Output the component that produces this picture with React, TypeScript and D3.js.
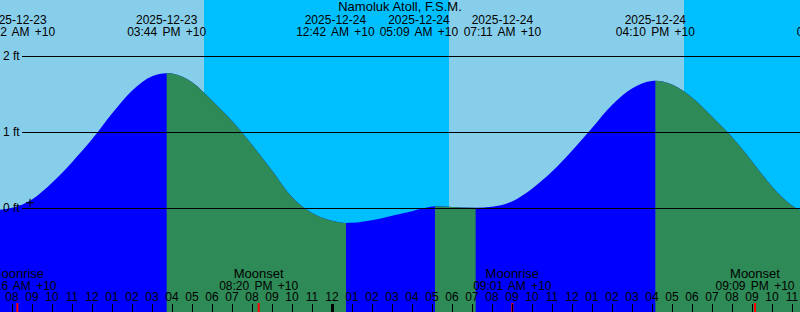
import React from "react";
import * as d3 from "d3";

const W = 800;
const H = 312;

const title = "Namoluk Atoll, F.S.M.";

// tide readings (local time +10) and heights in ft
const tideTimes = [
  "2025-12-23 05:00", "2025-12-23 06:00", "2025-12-23 07:00", "2025-12-23 08:00",
  "2025-12-23 09:00", "2025-12-23 10:00", "2025-12-23 11:00", "2025-12-23 12:00",
  "2025-12-23 13:00", "2025-12-23 14:00", "2025-12-23 15:00", "2025-12-23 15:44",
  "2025-12-23 16:00", "2025-12-23 17:00", "2025-12-23 18:00", "2025-12-23 19:00",
  "2025-12-23 20:00", "2025-12-23 21:00", "2025-12-23 22:00", "2025-12-23 23:00",
  "2025-12-24 00:00", "2025-12-24 00:42", "2025-12-24 01:00", "2025-12-24 02:00",
  "2025-12-24 03:00", "2025-12-24 04:00", "2025-12-24 05:00", "2025-12-24 05:09",
  "2025-12-24 06:00", "2025-12-24 07:00", "2025-12-24 07:11", "2025-12-24 08:00",
  "2025-12-24 09:00", "2025-12-24 10:00", "2025-12-24 11:00", "2025-12-24 12:00",
  "2025-12-24 13:00", "2025-12-24 14:00", "2025-12-24 15:00", "2025-12-24 16:00",
  "2025-12-24 16:10", "2025-12-24 17:00", "2025-12-24 18:00", "2025-12-24 19:00",
  "2025-12-24 20:00", "2025-12-24 21:00", "2025-12-24 22:00", "2025-12-24 23:00",
  "2025-12-25 00:00", "2025-12-25 01:00", "2025-12-25 02:00",
];
const tideHeights = [
  0.06, 0.0, -0.02, 0.01,
  0.12, 0.34, 0.61, 0.91,
  1.25, 1.55, 1.74, 1.78,
  1.775, 1.66, 1.42, 1.15,
  0.84, 0.5, 0.15, -0.06,
  -0.16, -0.19, -0.188, -0.155,
  -0.095, -0.035, 0.025, 0.03,
  0.02, 0.011, 0.01, 0.023,
  0.093, 0.26, 0.486, 0.76,
  1.06, 1.363, 1.58, 1.678,
  1.68, 1.63, 1.46, 1.21,
  0.94, 0.62, 0.29, 0.04,
  -0.09, -0.15, -0.1,
];

// labelled events on top
const topLabelTimes = [
  "2025-12-23 08:12",
  "2025-12-23 15:44",
  "2025-12-24 00:42",
  "2025-12-24 05:09",
  "2025-12-24 07:11",
  "2025-12-24 16:10",
  "2025-12-25 01:12",
];

// moon events
const moonTimes = ["2025-12-23 08:16", "2025-12-23 20:20", "2025-12-24 09:01", "2025-12-24 21:09"];
const moonKinds = ["Moonrise", "Moonset", "Moonrise", "Moonset"];

// sun
const sunsetTimes = ["2025-12-23 17:36", "2025-12-24 17:36"];
const sunriseTimes = ["2025-12-24 05:51", "2025-12-25 05:52"];

// y axis levels
const levelTicks = [0, 1, 2];

// marker
const markTime = "2025-12-23 08:54";
const markLevel = 0.07;

const FONT = "'Liberation Sans', Arial, Helvetica, sans-serif";

function spread(xs: number[], sep: number): number[] {
  type G = { idx: number[]; c: number };
  const order = xs.map((v, i) => i).sort((a, b) => xs[a] - xs[b]);
  const groups: G[] = order.map((i) => ({ idx: [i], c: xs[i] }));
  let merged = true;
  while (merged) {
    merged = false;
    for (let i = 0; i < groups.length - 1; i++) {
      const g1 = groups[i];
      const g2 = groups[i + 1];
      const r1 = g1.c + ((g1.idx.length - 1) * sep) / 2;
      const l2 = g2.c - ((g2.idx.length - 1) * sep) / 2;
      if (l2 - r1 < sep) {
        const idx = g1.idx.concat(g2.idx);
        const c = d3.mean(idx, (k) => xs[k]) as number;
        groups.splice(i, 2, { idx, c });
        merged = true;
        break;
      }
    }
  }
  const out = xs.slice();
  groups.forEach((g) => {
    g.idx.forEach((k, j) => {
      out[k] = g.c + (j - (g.idx.length - 1) / 2) * sep;
    });
  });
  return out;
}

export default function App() {
  const parse = d3.timeParse("%Y-%m-%d %H:%M");
  const start = parse("2025-12-23 07:24") as Date;
  const end = d3.timeHour.offset(start, 40);
  const x = d3.scaleTime().domain([start, end]).range([0, W]);
  const y = d3.scaleLinear().domain([0, 2]).range([208.5, 56.5]);

  const pts = tideTimes.map((t, i) => ({ t: parse(t) as Date, h: tideHeights[i] }));
  const area = d3
    .area<{ t: Date; h: number }>()
    .x((d) => x(d.t))
    .y0(H)
    .y1((d) => y(d.h))
    .curve(d3.curveMonotoneX);
  const areaPath = area(pts) || "";

  // local extremes split the curve into rising and falling parts
  const ext: number[] = [0];
  for (let i = 1; i < pts.length - 1; i++) {
    const a = pts[i].h - pts[i - 1].h;
    const b = pts[i + 1].h - pts[i].h;
    if (a * b < 0) ext.push(i);
  }
  ext.push(pts.length - 1);
  const falling: [number, number][] = [];
  for (let k = 0; k < ext.length - 1; k++) {
    const p = pts[ext[k]];
    const q = pts[ext[k + 1]];
    if (q.h < p.h) falling.push([x(p.t), x(q.t)]);
  }

  const nights = sunsetTimes.map((s, i) => [x(parse(s) as Date), x(parse(sunriseTimes[i]) as Date)]);

  const fmtDate = d3.timeFormat("%Y-%m-%d");
  const fmtTime = d3.timeFormat("%I:%M %p");
  const fmtHour = d3.timeFormat("%I");

  const topDates = topLabelTimes.map((t) => parse(t) as Date);
  const topX = spread(topDates.map((d) => x(d)), 83.5);

  const hours = d3.timeHour.range(d3.timeHour.ceil(start), end);

  const moonDates = moonTimes.map((t) => parse(t) as Date);

  const mx = x(parse(markTime) as Date);
  const my = y(markLevel) - 0.5;

  return (
    <svg
      width={W}
      height={H}
      style={{ position: "fixed", left: 0, top: 0, display: "block" }}
      fontFamily={FONT}
      fontSize={12}
    >
      <defs>
        <clipPath id="fallClip">
          {falling.map(([a, b], i) => (
            <rect key={i} x={a} y={0} width={b - a} height={H} />
          ))}
        </clipPath>
      </defs>
      <rect x={0} y={0} width={W} height={H} fill="#87CEEB" />
      {nights.map(([a, b], i) => (
        <rect key={i} x={a} y={0} width={b - a} height={H} fill="#00BFFF" />
      ))}
      <path d={areaPath} fill="#0000FF" />
      <path d={areaPath} fill="#2E8B57" clipPath="url(#fallClip)" />

      {levelTicks.map((v) => (
        <g key={v}>
          <line x1={22} x2={W} y1={y(v)} y2={y(v)} stroke="#000" strokeWidth={1} />
          <text x={3} y={y(v) + 3.5} fill="#000">
            {`${v} ft`}
          </text>
        </g>
      ))}

      <g stroke="#000" strokeWidth={1}>
        <line x1={mx - 4} x2={mx + 4} y1={my} y2={my} />
        <line x1={mx} x2={mx} y1={my - 4} y2={my + 4} />
      </g>

      <text x={W / 2} y={11} textAnchor="middle" fill="#000" fontSize={13}>
        {title}
      </text>
      {topDates.map((d, i) => (
        <g key={i}>
          <text x={topX[i]} y={24} textAnchor="middle" fill="#000">
            {fmtDate(d)}
          </text>
          <text x={topX[i]} y={35.5} textAnchor="middle" fill="#000" wordSpacing={2}>
            {`${fmtTime(d)} +10`}
          </text>
        </g>
      ))}

      {moonDates.map((d, i) => (
        <g key={i}>
          <text x={x(d)} y={278} textAnchor="middle" fill="#000" fontSize={13}>
            {moonKinds[i]}
          </text>
          <text x={x(d)} y={289.5} textAnchor="middle" fill="#000" wordSpacing={2}>
            {`${fmtTime(d)} +10`}
          </text>
          <line x1={x(d)} x2={x(d)} y1={303} y2={H} stroke="#FF0000" strokeWidth={2} />
        </g>
      ))}

      {hours.map((h, i) => {
        const hx = Math.round(x(h)) + 0.5;
        const midnight = h.getHours() === 0;
        return (
          <g key={i}>
            <text x={x(h)} y={300.5} textAnchor="middle" fill="#000">
              {fmtHour(h)}
            </text>
            <line x1={hx} x2={hx} y1={304} y2={H} stroke="#000" strokeWidth={midnight ? 3 : 1} />
          </g>
        );
      })}
    </svg>
  );
}
